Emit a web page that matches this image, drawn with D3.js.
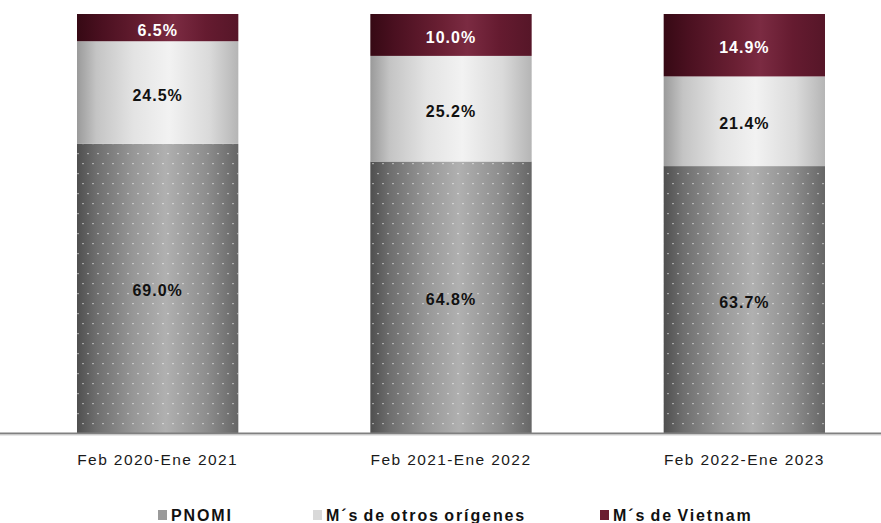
<!DOCTYPE html>
<html>
<head>
<meta charset="utf-8">
<script src="https://cdn.jsdelivr.net/npm/d3@7"></script>
<style>
  html, body { margin: 0; padding: 0; background: #fff; }
  svg { display: block; }
</style>
</head>
<body>
<svg id="chart" width="881" height="523"></svg>
<script>
const categories = ["Feb 2020-Ene 2021", "Feb 2021-Ene 2022", "Feb 2022-Ene 2023"];
const seriesNames = ["PNOMI", "M´s de otros orígenes", "M´s de Vietnam"];
const pnomi = [69.0, 64.8, 63.7];
const otros = [24.5, 25.2, 21.4];
const vietnam = [6.5, 10.0, 14.9];

const W = 881, H = 523;
const svg = d3.select("#chart");
const defs = svg.append("defs");

function hGrad(id, stops) {
  const g = defs.append("linearGradient").attr("id", id)
    .attr("x1", "0%").attr("x2", "100%").attr("y1", "0%").attr("y2", "0%");
  stops.forEach(s => g.append("stop").attr("offset", s[0]).attr("stop-color", s[1]));
}
hGrad("gP", [["0%", "#4f4f4f"], ["12%", "#6e6e6e"], ["35%", "#979797"], ["55%", "#b0b0b0"], ["80%", "#8e8e8e"], ["100%", "#666"]]);
hGrad("gO", [["0%", "#9a9a9a"], ["12%", "#c4c4c4"], ["35%", "#e3e3e3"], ["57%", "#f2f2f2"], ["82%", "#dadada"], ["100%", "#b5b5b5"]]);
hGrad("gV", [["0%", "#360914"], ["15%", "#4a1020"], ["45%", "#6b2034"], ["60%", "#7b2b42"], ["80%", "#651b30"], ["100%", "#561628"]]);

const pat = defs.append("pattern").attr("id", "dots")
  .attr("patternUnits", "userSpaceOnUse").attr("width", 10).attr("height", 20);
pat.append("rect").attr("x", 2).attr("y", 3).attr("width", 2).attr("height", 1.2).attr("fill", "#fff").attr("opacity", 0.45);
pat.append("rect").attr("x", 7).attr("y", 13).attr("width", 2).attr("height", 1.2).attr("fill", "#fff").attr("opacity", 0.45);

const x = d3.scaleBand().domain(categories).range([11, 891]).paddingInner(0.45).paddingOuter(0.225);
const y = d3.scaleLinear().domain([0, 100]).range([433, 14]);

const fills = ["url(#gP)", "url(#gO)", "url(#gV)"];
const labelColors = ["#111", "#111", "#fff"];
const legendColors = ["#9a9a9a", "#d9d9d9", "#6b1c30"];

const rows = categories.map((c, i) => ({ cat: c, PNOMI: pnomi[i], O: otros[i], V: vietnam[i] }));
const stack = d3.stack().keys(["PNOMI", "O", "V"]);
const stacked = stack(rows);

stacked.forEach((layer, si) => {
  const g = svg.append("g");
  g.selectAll("rect.seg").data(layer).join("rect")
    .attr("class", "seg")
    .attr("x", d => x(d.data.cat))
    .attr("width", x.bandwidth())
    .attr("y", d => y(d[1]))
    .attr("height", d => y(d[0]) - y(d[1]))
    .attr("fill", fills[si]);
  if (si === 0) {
    g.selectAll("rect.dots").data(layer).join("rect")
      .attr("class", "dots")
      .attr("x", d => x(d.data.cat))
      .attr("width", x.bandwidth())
      .attr("y", d => y(d[1]))
      .attr("height", d => y(d[0]) - y(d[1]))
      .attr("fill", "url(#dots)");
  }
  g.selectAll("text").data(layer).join("text")
    .attr("x", d => x(d.data.cat) + x.bandwidth() / 2)
    .attr("y", d => (y(d[0]) + y(d[1])) / 2 + 8)
    .attr("text-anchor", "middle")
    .attr("font-family", "Liberation Sans, Arial, sans-serif")
    .attr("font-weight", "bold")
    .attr("font-size", 16)
    .attr("letter-spacing", "1px")
    .attr("fill", labelColors[si])
    .text(d => (d[1] - d[0]).toFixed(1) + "%");
});

// baseline
svg.append("line").attr("x1", 0).attr("x2", W).attr("y1", y(0) + 0.5).attr("y2", y(0) + 0.5)
  .attr("stroke", "#808080").attr("stroke-width", 2);
svg.append("line").attr("x1", 0).attr("x2", W).attr("y1", y(0) + 2).attr("y2", y(0) + 2)
  .attr("stroke", "#d0d0d0").attr("stroke-width", 1);

// category labels
svg.append("g").selectAll("text").data(categories).join("text")
  .attr("x", d => x(d) + x.bandwidth() / 2)
  .attr("y", 465)
  .attr("text-anchor", "middle")
  .attr("font-family", "Liberation Sans, Arial, sans-serif")
  .attr("font-size", 15.5)
  .attr("letter-spacing", "1.4px")
  .attr("fill", "#1a1a1a")
  .text(d => d);

// legend
const legendX = [158, 313, 600];
const lg = svg.append("g");
seriesNames.forEach((n, i) => {
  lg.append("rect").attr("x", legendX[i]).attr("y", 510).attr("width", 9).attr("height", 10).attr("fill", legendColors[i]);
  lg.append("text").attr("x", legendX[i] + 13).attr("y", 521)
    .attr("font-family", "Liberation Sans, Arial, sans-serif")
    .attr("font-weight", "bold")
    .attr("font-size", 16)
    .attr("letter-spacing", "1.9px")
    .attr("word-spacing", "-2px")
    .attr("fill", "#111")
    .text(n);
});
</script>
</body>
</html>
